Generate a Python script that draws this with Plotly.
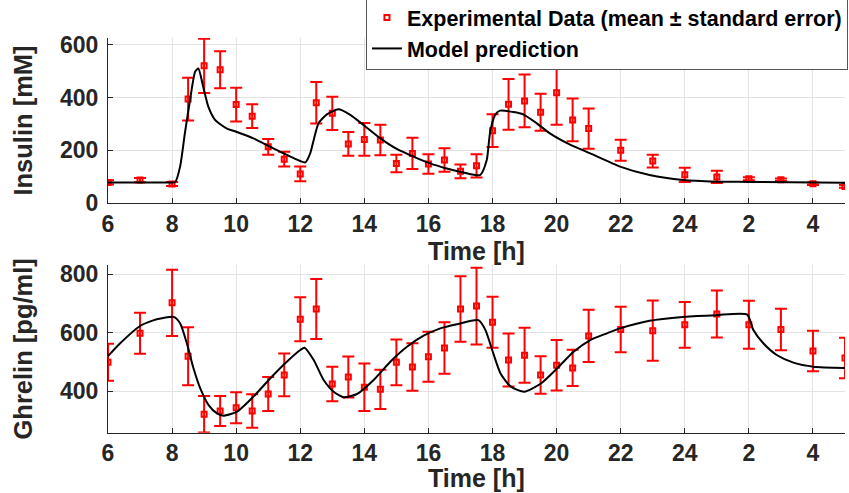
import plotly.graph_objects as go

# ---------------- data ----------------
# time in hours (clock times after 24 continue as 26=2h, 28=4h, 29=5h)
ins_t = [6, 7, 8, 8.5, 9, 9.5, 10, 10.5, 11, 11.5, 12, 12.5, 13, 13.5, 14, 14.5,
         15, 15.5, 16, 16.5, 17, 17.5, 18, 18.5, 19, 19.5, 20, 20.5, 21, 22, 23,
         24, 25, 26, 27, 28, 29]
ins_mean = [78, 87, 72, 394, 520, 505, 373, 329, 213, 166, 110, 380, 340, 224, 241, 239,
            150, 188, 148, 163, 120, 141, 274, 374, 387, 344, 418, 315, 282, 200, 159,
            107, 99, 92, 88, 73, 63]
ins_se = [8, 8, 8, 81, 103, 70, 64, 45, 30, 28, 28, 79, 63, 45, 62, 58,
          33, 59, 37, 45, 26, 44, 62, 96, 100, 70, 121, 81, 76, 40, 24,
          27, 23, 6, 5, 5, 5]

ins_model_t = [6.0, 8.0, 8.1, 8.25, 8.4, 8.56, 8.72, 8.82, 8.97, 9.13, 9.34, 9.7, 10.0,
               10.54, 11.0, 11.48, 12.0, 12.16, 12.31, 12.42, 12.57, 12.83, 13.19, 13.56,
               13.97, 14.5, 15.01, 15.53, 16.05, 16.57, 17.09, 17.61, 17.82, 17.92, 18.08,
               18.23, 18.65, 18.96, 19.38, 19.79, 20.31, 20.72, 21.05, 21.98, 22.9, 23.94,
               24.98, 26.0, 29.0]
ins_model = [78, 78, 80, 138, 265, 390, 498, 510, 441, 365, 315, 283, 270,
             245, 217, 188, 159, 154, 188, 239, 302, 336, 355, 334,
             296, 245, 205, 176, 150, 131, 116, 106, 163, 264, 334,
             350, 345, 336, 302, 264, 228, 205, 188, 138, 106, 87,
             81, 80, 77]

ghr_t = ins_t
ghr_mean = [499, 598, 702, 520, 322, 333, 344, 333, 391, 456, 646, 681, 425, 449, 414, 407,
            499, 483, 518, 548, 681, 691, 636, 507, 523, 456, 489, 480, 589, 611, 607,
            627, 664, 627, 611, 538, 514]
ghr_se = [63, 70, 113, 99, 62, 51, 53, 57, 58, 73, 75, 102, 59, 70, 81, 67,
          78, 81, 85, 88, 112, 131, 87, 90, 94, 64, 86, 62, 89, 78, 103,
          78, 80, 82, 71, 69, 69]

ghr_model_t = [6.0, 6.38, 7.0, 7.52, 8.05, 8.25, 8.46, 8.67, 8.88, 9.14, 9.4, 9.6, 10.03,
               10.54, 11.06, 11.58, 12.0, 12.13, 12.42, 12.73, 13.04, 13.35, 13.77, 14.29,
               14.81, 15.33, 15.85, 16.37, 16.89, 17.56, 17.78, 17.99, 18.25, 18.57, 18.99,
               19.51, 20.03, 20.53, 21.05, 21.57, 21.98, 22.9, 23.94, 24.98, 25.95, 26.14,
               26.45, 26.87, 27.39, 28.02, 29.0]
ghr_model = [520, 564, 623, 646, 654, 632, 564, 478, 410, 353, 325, 317, 331,
             382, 444, 501, 541, 549, 507, 439, 399, 380, 391, 439,
             501, 552, 590, 615, 629, 643, 609, 541, 461, 416, 399,
             427, 480, 535, 575, 598, 615, 641, 654, 660, 662, 609,
             564, 524, 498, 484, 480]

tick_vals = [6, 8, 10, 12, 14, 16, 18, 20, 22, 24, 26, 28]
tick_text = ["6", "8", "10", "12", "14", "16", "18", "20", "22", "24", "2", "4"]

# ---------------- style ----------------
TXT = "#262626"
GRID = "#e3e3e3"
FONT = "Liberation Sans, Arial, sans-serif"
RED = "#ff0000"

fig = go.Figure()

def data_trace(t, m, se, xa, ya, show):
    return go.Scatter(
        x=t, y=m, mode="markers", xaxis=xa, yaxis=ya,
        name="Experimental Data (mean \u00b1 standard error)",
        marker=dict(symbol="square-open", size=5, color=RED, line=dict(width=2, color=RED)),
        error_y=dict(type="data", array=se, visible=True, color=RED, thickness=2, width=6),
        showlegend=show, legendgroup="data", cliponaxis=True,
    )

def model_trace(t, m, xa, ya, show):
    return go.Scatter(
        x=t, y=m, mode="lines", xaxis=xa, yaxis=ya, name="Model prediction",
        line=dict(color="black", width=2, shape="spline", smoothing=0.6),
        showlegend=show, legendgroup="model",
    )

fig.add_trace(data_trace(ins_t, ins_mean, ins_se, "x", "y", True))
fig.add_trace(model_trace(ins_model_t, ins_model, "x", "y", True))
fig.add_trace(data_trace(ghr_t, ghr_mean, ghr_se, "x2", "y2", False))
fig.add_trace(model_trace(ghr_model_t, ghr_model, "x2", "y2", False))

W, H = 849, 493
TITLE_FONT = dict(family=FONT, size=25, color=TXT, weight="bold")

def xax(anchor, with_title):
    d = dict(
        anchor=anchor, domain=[0, 1], range=[6, 29],
        tickvals=tick_vals, ticktext=tick_text,
        showgrid=True, gridcolor=GRID, gridwidth=1,
        showline=True, linecolor=TXT, linewidth=1,
        ticks="inside", ticklen=5, tickcolor=TXT, tickwidth=1,
        tickfont=dict(family=FONT, size=23, color=TXT, weight="bold"),
        ticklabelstandoff=0,
        zeroline=False, fixedrange=True,
    )
    if with_title:
        d["title"] = dict(text="Time [h]", font=TITLE_FONT, standoff=2)
    return d

def yax(anchor, domain, rng, ticks, title):
    return dict(
        anchor=anchor, domain=domain, range=rng, tickvals=ticks,
        showgrid=True, gridcolor=GRID, gridwidth=1,
        showline=True, linecolor=TXT, linewidth=1,
        ticks="inside", ticklen=5, tickcolor=TXT, tickwidth=1,
        tickfont=dict(family=FONT, size=23, color=TXT, weight="bold"),
        ticklabelstandoff=4,
        title=dict(text=title, font=dict(family=FONT, size=25.5, color=TXT, weight="bold"),
                   standoff=20),
        zeroline=False, fixedrange=True,
    )

top_dom = [1 - 203 / H, 1 - 38 / H]
bot_dom = [1 - 432.7 / H, 1 - 265 / H]

fig.update_layout(
    width=W, height=H,
    margin=dict(l=108, r=4, t=0, b=0, autoexpand=False),
    paper_bgcolor="white", plot_bgcolor="white",
    xaxis=xax("y", True),
    yaxis=yax("x", top_dom, [0, 625.5], [0, 200, 400, 600], "Insulin [mM]"),
    xaxis2=xax("y2", False),
    yaxis2=yax("x2", bot_dom, [259, 831], [400, 600, 800], "Ghrelin [pg/ml]"),
    legend=dict(
        x=1.004, xanchor="right", y=1.0081, yanchor="top",
        bgcolor="white", bordercolor="#555555", borderwidth=1,
        font=dict(family=FONT, size=21.5, color="black", weight="bold"),
        itemwidth=30, tracegroupgap=0,
    ),
    showlegend=True,
    annotations=[dict(
        text="Time [h]", xref="paper", yref="paper", x=0.5, y=0,
        xanchor="center", yanchor="bottom", showarrow=False, font=TITLE_FONT,
        borderpad=0,
    )],
)

fig.write_html("out.html")
